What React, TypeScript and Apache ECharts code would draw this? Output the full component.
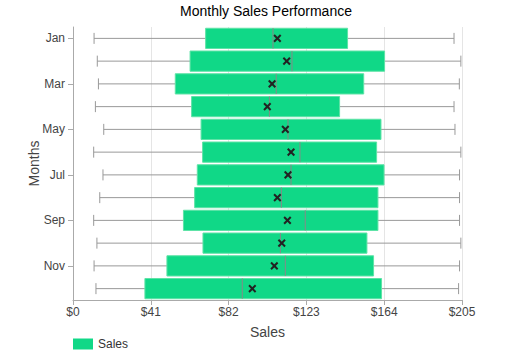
import React, { useEffect, useRef } from "react";
import * as echarts from "echarts";

const months = ["Jan", "Feb", "Mar", "Apr", "May", "Jun", "Jul", "Aug", "Sep", "Oct", "Nov", "Dec"];
const mins = [11.1, 12.8, 13.4, 11.8, 16.2, 10.9, 15.8, 14.1, 10.9, 12.6, 11.1, 12.1];
const q1s = [69.9, 61.7, 53.9, 62.5, 67.5, 68.3, 65.5, 64.1, 58.2, 68.5, 49.5, 37.9];
const medians = [105.4, 115.4, 107.1, 103.5, 113.3, 119.6, 114.9, 109.8, 122.4, 109.3, 111.9, 89.2];
const q3s = [144.7, 164.2, 153.2, 140.5, 162.3, 160.0, 163.9, 160.7, 160.7, 154.9, 158.4, 162.6];
const maxs = [200.8, 204.4, 203.6, 200.8, 201.3, 204.4, 203.7, 203.7, 203.7, 204.4, 203.7, 203.2];
const means = [107.7, 112.6, 104.9, 102.4, 111.9, 114.9, 113.3, 107.7, 113.0, 110.0, 106.1, 94.5];
const xTicks = [0, 41, 82, 123, 164, 205];

const FONT = "Liberation Sans, Arial, sans-serif";

export default function App() {
  const ref = useRef<HTMLDivElement>(null);
  useEffect(() => {
    if (!ref.current) return;
    const chart = echarts.init(ref.current, undefined, { renderer: "svg" });
    const data = months.map((_, i) => [i, mins[i], q1s[i], medians[i], q3s[i], maxs[i], means[i]]);
    chart.setOption({
      animation: false,
      textStyle: { fontFamily: FONT },
      title: {
        text: "Monthly Sales Performance",
        left: "center",
        top: -1,
        textStyle: { fontFamily: FONT, fontSize: 14, fontWeight: "normal", color: "#000" },
      },
      legend: {
        data: ["Sales"],
        left: 68,
        bottom: 0,
        icon: "rect",
        itemWidth: 20,
        itemHeight: 11,
        itemGap: 6,
        textStyle: { fontFamily: FONT, fontSize: 12, color: "#333" },
      },
      grid: { left: 73, right: 70, top: 27, bottom: 55 },
      xAxis: {
        type: "value",
        min: 0,
        max: 205,
        interval: 41,
        name: "Sales",
        nameLocation: "middle",
        nameGap: 25,
        nameMoveOverlap: false,
        nameTextStyle: { fontFamily: FONT, fontSize: 14, color: "#444" },
        axisLine: { show: true, lineStyle: { color: "#aaa" } },
        axisTick: { show: true, length: 5, lineStyle: { color: "#aaa" } },
        axisLabel: {
          color: "#444",
          fontFamily: FONT,
          fontSize: 12,
          margin: 6,
          formatter: (v: number) => (xTicks.includes(v) ? "$" + v : ""),
        },
        splitLine: { show: true, lineStyle: { color: "#e5e5e5" } },
      },
      yAxis: {
        type: "category",
        data: months,
        inverse: true,
        name: "Months",
        nameLocation: "middle",
        nameGap: 32,
        nameMoveOverlap: false,
        nameTextStyle: { fontFamily: FONT, fontSize: 14, color: "#444" },
        axisLine: { show: true, lineStyle: { color: "#aaa" } },
        axisTick: { show: true, length: 5, interval: 1, alignWithLabel: true, lineStyle: { color: "#aaa" } },
        axisLabel: { interval: 1, color: "#444", fontFamily: FONT, fontSize: 12, margin: 8 },
        splitLine: { show: false },
      },
      series: [
        {
          name: "Sales",
          type: "custom",
          itemStyle: { color: "#10d887" },
          encode: { x: [1, 2, 3, 4, 5, 6], y: 0 },
          data,
          renderItem: (params: any, api: any) => {
            const yi = api.value(0);
            const pMin = api.coord([api.value(1), yi]);
            const pQ1 = api.coord([api.value(2), yi]);
            const pMed = api.coord([api.value(3), yi]);
            const pQ3 = api.coord([api.value(4), yi]);
            const pMax = api.coord([api.value(5), yi]);
            const pMean = api.coord([api.value(6), yi]);
            const band = api.size([0, 1])[1];
            const h = band * 0.89;
            const cy = pQ1[1];
            const cap = 5.5;
            const m = 3.3;
            const whisker = { stroke: "#999", lineWidth: 1 };
            return {
              type: "group",
              children: [
                { type: "line", shape: { x1: pMin[0], y1: cy, x2: pQ1[0], y2: cy }, style: whisker },
                { type: "line", shape: { x1: pQ3[0], y1: cy, x2: pMax[0], y2: cy }, style: whisker },
                { type: "line", shape: { x1: pMin[0], y1: cy - cap, x2: pMin[0], y2: cy + cap }, style: whisker },
                { type: "line", shape: { x1: pMax[0], y1: cy - cap, x2: pMax[0], y2: cy + cap }, style: whisker },
                {
                  type: "rect",
                  shape: { x: pQ1[0], y: cy - h / 2, width: pQ3[0] - pQ1[0], height: h },
                  style: { fill: "#10d887", stroke: "#5ee3a6", lineWidth: 1 },
                },
                {
                  type: "line",
                  shape: { x1: pMed[0], y1: cy - h / 2, x2: pMed[0], y2: cy + h / 2 },
                  style: { stroke: "#888", lineWidth: 1 },
                },
                {
                  type: "line",
                  shape: { x1: pMean[0] - m, y1: cy - m, x2: pMean[0] + m, y2: cy + m },
                  style: { stroke: "#222", lineWidth: 2 },
                },
                {
                  type: "line",
                  shape: { x1: pMean[0] - m, y1: cy + m, x2: pMean[0] + m, y2: cy - m },
                  style: { stroke: "#222", lineWidth: 2 },
                },
              ],
            };
          },
        },
      ],
    });
    return () => chart.dispose();
  }, []);
  return <div ref={ref} style={{ width: 532, height: 355, position: "absolute", left: 0, top: 0 }} />;
}
